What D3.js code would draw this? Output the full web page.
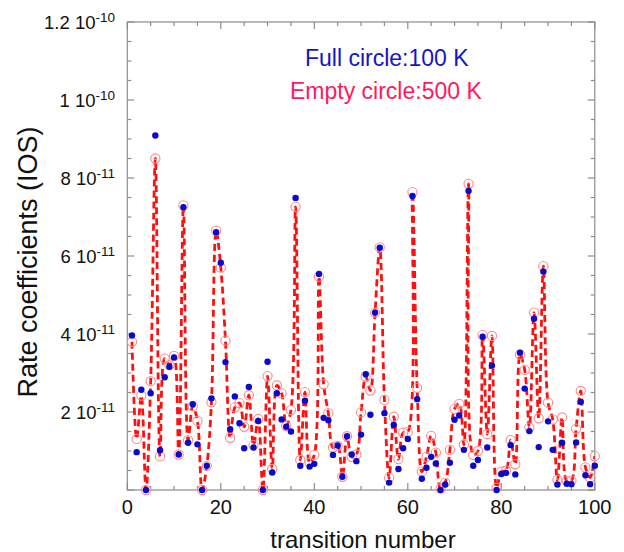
<!DOCTYPE html>
<html><head><meta charset="utf-8">
<script src="https://cdn.jsdelivr.net/npm/d3@7"></script>
<style>body{margin:0;background:#fff}svg{display:block}text{font-family:"Liberation Sans",Arial,sans-serif}</style>
</head><body><svg id="c" width="624" height="552"></svg>
<script>
// values in units of 1e-11
const transitions = d3.range(1, 101);
const rate100K = [3.96,0.97,2.57,0,2.48,9.09,1.02,2.89,3.16,3.40,0.91,7.25,1.21,2.20,1.17,0,0.62,2.35,6.61,5.83,
3.28,1.56,2.40,1.71,1.07,2.64,1.09,1.77,0,3.29,0.45,2.48,1.81,1.62,1.50,7.49,0.62,2.29,0.60,0.67,
5.54,1.85,1.79,0.90,1.14,0.34,1.38,0.91,0.74,1.42,2.97,1.93,4.55,6.21,1.97,0.19,1.67,0.54,1.07,1.31,
7.54,2.33,0.29,0.57,0.85,0.68,0,0.14,0.70,1.80,1.91,1.03,7.67,0.62,0.77,3.93,1.09,3.19,0,0.41,
0.44,1.15,0.40,3.52,2.60,1.51,4.39,1.10,5.60,1.76,1.03,0.14,1.21,0.16,0.15,1.22,2.26,0.38,0.15,0.62];
const rate500K = [3.80,1.31,2.42,0,2.79,8.50,0.86,3.37,3.20,3.44,0.91,7.30,1.28,2.15,1.77,0,0.62,2.25,6.65,5.70,
3.83,1.34,2.12,2.23,1.62,2.43,1.15,1.82,0,2.92,0.54,2.68,2.48,1.64,2.05,7.26,0.77,2.51,0.70,0.90,
5.47,2.71,1.97,1.09,1.13,0.34,1.38,0.85,0.91,1.99,2.91,2.55,4.55,6.22,2.31,0.31,1.88,0.79,1.47,1.49,
7.64,2.62,0.47,0.85,1.39,0.96,0.04,0.19,1.03,2.08,2.21,1.16,7.85,0.90,1.00,3.97,1.43,3.95,0.06,0.47,
0.50,1.28,0.66,3.47,3.08,1.60,4.55,1.84,5.74,2.24,1.81,0.26,1.86,0.23,0.24,1.57,2.54,0.58,0.32,0.87];
const unit = 1e-11;
const xTicks = [0, 20, 40, 60, 80, 100];
const yTicks = [2e-11, 4e-11, 6e-11, 8e-11, 1e-10, 1.2e-10];
const yTickMant = ["2", "4", "6", "8", "1", "1.2"];
const yTickExp = ["-11", "-11", "-11", "-11", "-10", "-10"];
const legend = ["Full circle:100 K", "Empty circle:500 K"];

const svg = d3.select("#c");
const L = 127.3, R = 594.8, T = 22, B = 490;
const x = d3.scaleLinear().domain([0, 100]).range([L, R]);
const y = d3.scaleLinear().domain([0, 1.2e-10]).range([B, T]);
const axisColor = "#8c8c8c";

// frame
svg.append("rect").attr("x", L).attr("y", T).attr("width", R - L).attr("height", B - T)
  .attr("fill", "none").attr("stroke", axisColor).attr("stroke-width", 1.2);

// ticks
const g = svg.append("g").attr("stroke", axisColor).attr("stroke-width", 1.2);
d3.range(0, 101, 5).forEach(v => {
  const len = v % 20 === 0 ? 7 : 4;
  g.append("line").attr("x1", x(v)).attr("x2", x(v)).attr("y1", B).attr("y2", B - len);
  g.append("line").attr("x1", x(v)).attr("x2", x(v)).attr("y1", T).attr("y2", T + len);
});
d3.range(0, 25).forEach(k => {
  const v = k * 0.5e-11;
  const len = k % 4 === 0 ? 7 : 4;
  g.append("line").attr("y1", y(v)).attr("y2", y(v)).attr("x1", L).attr("x2", L + len);
  g.append("line").attr("y1", y(v)).attr("y2", y(v)).attr("x1", R).attr("x2", R - len);
});

// x tick labels
svg.selectAll(".xt").data(xTicks).join("text")
  .attr("x", d => x(d)).attr("y", 514).attr("text-anchor", "middle")
  .attr("font-size", 20).attr("fill", "#111").text(d => d);

// y tick labels
yTicks.forEach((v, i) => {
  const t = svg.append("text").attr("x", 115).attr("y", y(v) + 6.5)
    .attr("text-anchor", "end").attr("font-size", 18.5).attr("fill", "#111");
  t.append("tspan").text(yTickMant[i] + " 10");
  t.append("tspan").attr("dy", -7).attr("font-size", 13.5).text(yTickExp[i]);
});

// axis titles
svg.append("text").attr("x", 363).attr("y", 548).attr("text-anchor", "middle")
  .attr("font-size", 24).attr("fill", "#111").text("transition number");
svg.append("text").attr("transform", "translate(37,262) rotate(-90)").attr("text-anchor", "middle")
  .attr("font-size", 27).attr("fill", "#111").text("Rate coefficients (IOS)");

// clip
svg.append("clipPath").attr("id", "clip").append("rect")
  .attr("x", L).attr("y", T).attr("width", R - L).attr("height", B - T + 2);

const d500 = transitions.map((t, i) => [t, rate500K[i] * unit]);
const d100 = transitions.map((t, i) => [t, rate100K[i] * unit]);

const line = d3.line().x(d => x(d[0])).y(d => y(d[1])).curve(d3.curveCatmullRom.alpha(0.5));
svg.append("path").datum(d500).attr("d", line).attr("clip-path", "url(#clip)")
  .attr("fill", "none").attr("stroke", "#ff1010").attr("stroke-width", 2.8)
  .attr("stroke-dasharray", "7,4");

svg.append("g").selectAll("circle").data(d500).join("circle")
  .attr("cx", d => x(d[0])).attr("cy", d => y(d[1])).attr("r", 4.6)
  .attr("fill", "none").attr("stroke", "#ff8a8a").attr("stroke-width", 1.1);

svg.append("g").selectAll("circle").data(d100).join("circle")
  .attr("cx", d => x(d[0])).attr("cy", d => y(d[1])).attr("r", 3.2)
  .attr("fill", "#0a0acc");

// legend
svg.append("text").attr("x", 305).attr("y", 66).attr("font-size", 23).attr("fill", "#1414c8").text(legend[0]);
svg.append("text").attr("x", 290).attr("y", 99).attr("font-size", 23).attr("fill", "#ff1a5e").text(legend[1]);
</script></body></html>
